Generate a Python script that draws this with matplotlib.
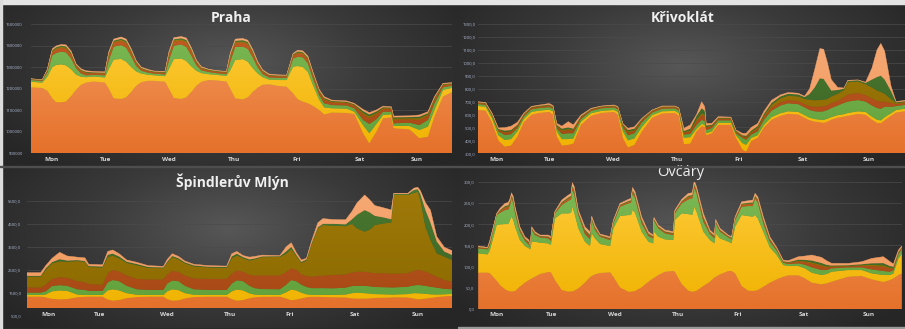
import numpy as np
import matplotlib
matplotlib.use("Agg")
import matplotlib.pyplot as plt
from matplotlib.colors import LinearSegmentedColormap
from matplotlib.patches import Rectangle
from matplotlib.ticker import FuncFormatter

W, H = 905, 329

# series colours, bottom layer first; each area fades from the top shade to the bottom shade
colors = ["#ef8a4a", "#fbc231", "#72ae4a", "#b5521d", "#977205", "#44702c", "#f4a067"]
shades = [("#f49a60", "#e5712a"), ("#fecb3c", "#f0b300"), ("#7dba55", "#60a03a"),
          ("#c25c24", "#a64814"), ("#a17b0b", "#8c6a00"), ("#4b7b31", "#3b6425"),
          ("#f7ab77", "#f0985c")]
days = ["Mon", "Tue", "Wed", "Thu", "Fri", "Sat", "Sun"]

# ---------------- Praha (thousands) ----------------
praha_hours = [0, 4.5, 6.5, 8.5, 10, 12, 14, 16, 18, 20, 22, 25, 29.5, 31, 33, 36, 38, 40, 42, 44,
               46.5, 49, 53.5, 55, 57, 60, 62, 64, 66, 68, 71, 74, 78, 79.5, 81.5, 84.5, 86.5, 88.5, 90.5, 92.5,
               95, 99, 102, 104.6, 106.5, 108.5, 110.5, 112.5, 115, 117, 120, 126, 129, 132.5, 135, 137.8, 140.5,
               143.8, 144.7, 151, 155, 158.4, 161, 164.4, 168]
praha_orange = [1206, 1203, 1190, 1155, 1137, 1137, 1140, 1165, 1195, 1218, 1228, 1233, 1228, 1200, 1155, 1152, 1160, 1185, 1213, 1230,
                1236, 1236, 1232, 1200, 1157, 1152, 1160, 1185, 1213, 1232, 1240, 1238, 1233, 1200, 1155, 1150, 1160, 1185, 1205, 1218,
                1220, 1212, 1209, 1178, 1150, 1140, 1132, 1120, 1101, 1080, 1089, 1087, 1083, 993, 946, 1000, 1062, 1067, 1016, 1011,
                970, 977, 1070, 1163, 1184]
praha_yellow = [26, 25, 65, 145, 173, 176, 168, 125, 70, 37, 25, 23, 24, 90, 180, 186, 165, 115, 67, 40,
                29, 26, 26, 90, 180, 188, 168, 118, 70, 40, 27, 26, 26, 85, 178, 187, 165, 110, 65, 35,
                22, 28, 31, 124, 155, 160, 145, 97, 48, 33, 20, 20, 10, 38, 47, 36, 16, 14, 11, 16,
                38, 47, 31, 31, 20]
praha_green = [8, 8, 20, 55, 55, 59, 60, 50, 30, 15, 9, 8, 10, 40, 60, 64, 65, 50, 25, 13,
               10, 8, 8, 40, 62, 65, 65, 50, 25, 13, 10, 8, 8, 40, 60, 58, 60, 50, 28, 14,
               10, 10, 10, 38, 43, 45, 40, 31, 21, 19, 15, 15, 16, 24, 43, 22, 15, 12, 12, 15,
               23, 31, 31, 12, 10]
praha_rust = [3, 3, 8, 15, 17, 17, 18, 18, 10, 11, 10, 8, 8, 20, 18, 20, 20, 18, 12, 8,
              7, 6, 7, 20, 19, 19, 21, 19, 12, 8, 7, 6, 7, 20, 19, 19, 20, 19, 13, 10,
              8, 7, 7, 12, 16, 15, 17, 16, 14, 16, 12, 11, 12, 25, 27, 22, 13, 12, 17, 16,
              24, 19, 15, 10, 7]
praha_olive = [1, 1, 2, 5, 5, 5, 5, 5, 3, 3, 3, 2, 2, 6, 5, 5, 6, 5, 4, 3,
               2, 2, 2, 6, 6, 5, 6, 5, 4, 3, 2, 2, 2, 6, 5, 5, 6, 5, 4, 3,
               2, 2, 2, 4, 5, 5, 5, 5, 4, 5, 4, 3, 4, 8, 9, 7, 4, 4, 6, 5,
               8, 6, 5, 3, 2]
praha_dkgreen = [1, 1, 2, 4, 5, 5, 5, 5, 3, 3, 3, 2, 2, 6, 5, 5, 6, 5, 4, 2,
                 2, 2, 2, 6, 5, 5, 6, 5, 4, 2, 2, 2, 2, 6, 5, 6, 6, 5, 4, 3,
                 2, 2, 2, 4, 4, 4, 5, 4, 4, 4, 3, 3, 3, 8, 8, 7, 4, 3, 5, 5,
                 7, 6, 5, 3, 2]
praha_light = [1, 1, 3, 6, 6, 6, 7, 7, 4, 5, 5, 4, 4, 8, 7, 8, 8, 7, 5, 4,
               4, 2, 3, 8, 8, 8, 9, 8, 5, 4, 2, 2, 2, 8, 8, 8, 8, 8, 6, 4,
               4, 3, 2, 4, 6, 6, 7, 6, 5, 6, 4, 4, 4, 8, 9, 7, 5, 4, 6, 6,
               8, 7, 6, 3, 3]
praha_days = [8.2, 29.6, 55.0, 80.9, 105.9, 131.2, 153.8]

# ---------------- Křivoklát ----------------
kriv_hours = [0, 3, 5.5, 8, 10.5, 13, 15.5, 18, 21, 24, 28, 29.5, 31, 33, 35.5, 37.5, 40.5, 44.5, 48.5, 53.5,
              55, 57, 59, 61.5, 64.5, 68.5, 72.5, 77.5, 79, 81, 83.5, 86, 88, 89.2, 89.8, 92, 94.5, 99.5, 101.5, 104,
              105.5, 107.5, 110, 112.5, 115.5, 119, 122, 126, 128.5, 130.5, 132.5, 134.5, 136, 137.5, 139, 141.5, 144,
              145.5, 149.5, 152.5, 155, 157, 158.5, 160, 162.5, 164.5, 168]
kriv_orange = [635, 630, 540, 400, 352, 360, 430, 540, 598, 612, 620, 600, 430, 360, 365, 375, 520, 590, 612, 620,
               600, 420, 345, 365, 470, 575, 608, 612, 590, 370, 375, 470, 510, 505, 440, 455, 520, 520, 420, 330,
               313, 395, 420, 500, 560, 590, 605, 600, 575, 555, 545, 540, 535, 545, 560, 575, 583, 590, 604, 598,
               560, 535, 532, 555, 590, 615, 625]
kriv_yellow = [31, 30, 30, 40, 51, 50, 40, 25, 22, 18, 17, 25, 40, 50, 45, 40, 25, 20, 16, 15,
               20, 50, 55, 50, 35, 20, 17, 16, 20, 50, 50, 20, 17, 15, 15, 15, 15, 15, 20, 50,
               52, 25, 20, 20, 20, 20, 20, 20, 20, 20, 20, 20, 23, 23, 20, 20, 20, 22, 21, 22,
               23, 25, 23, 25, 20, 20, 20]
kriv_green = [15, 15, 20, 30, 39, 38, 25, 20, 20, 20, 20, 20, 25, 40, 45, 40, 20, 18, 20, 20,
              20, 30, 40, 40, 35, 20, 20, 20, 20, 25, 25, 30, 31, 30, 25, 25, 20, 20, 15, 40,
              40, 25, 30, 40, 50, 60, 62, 60, 60, 60, 60, 62, 67, 67, 70, 75, 87, 88, 87, 80,
              87, 90, 90, 80, 50, 30, 30]
kriv_rust = [9, 8, 10, 10, 18, 18, 15, 11, 10, 10, 11, 10, 15, 20, 23, 20, 12, 9, 9, 8,
             10, 15, 20, 17, 15, 10, 10, 9, 10, 15, 20, 30, 38, 40, 20, 15, 10, 10, 10, 10,
             15, 15, 20, 20, 25, 25, 25, 25, 25, 30, 35, 40, 40, 37, 40, 35, 45, 55, 53, 50,
             55, 55, 55, 40, 30, 15, 15]
kriv_olive = [2, 3, 3, 4, 5, 6, 4, 4, 4, 4, 4, 4, 5, 10, 10, 7, 5, 3, 3, 3,
              4, 5, 10, 8, 5, 4, 4, 3, 4, 6, 8, 10, 14, 10, 5, 5, 5, 5, 5, 5,
              8, 8, 10, 12, 20, 30, 33, 35, 40, 50, 50, 50, 50, 48, 50, 55, 55, 95, 90, 85,
              85, 80, 75, 60, 30, 10, 7]
kriv_dkgreen = [3, 3, 3, 4, 10, 8, 6, 4, 4, 4, 4, 4, 5, 10, 12, 8, 5, 3, 3, 3,
                4, 5, 10, 10, 5, 3, 3, 3, 4, 6, 12, 30, 38, 30, 10, 5, 5, 5, 5, 5,
                7, 8, 10, 13, 15, 15, 15, 15, 15, 45, 100, 168, 160, 110, 45, 30, 10, 10, 10, 10,
                60, 105, 125, 110, 60, 5, 6]
kriv_light = [4, 4, 6, 8, 23, 30, 20, 6, 5, 5, 9, 7, 12, 20, 45, 30, 9, 5, 3, 5,
              4, 5, 13, 15, 6, 3, 4, 3, 4, 21, 30, 10, 51, 30, 17, 12, 8, 5, 5, 15,
              20, 24, 20, 20, 20, 12, 10, 10, 7, 40, 140, 230, 230, 170, 85, 20, 5, 5, 3, 5,
              90, 210, 250, 220, 40, 5, 7]
kriv_days = [7.2, 28.0, 53.0, 78.2, 102.7, 127.8, 153.6]

# ---------------- Špindlerův Mlýn ----------------
spin_hours = [0, 5.5, 7.5, 10, 13, 16, 20, 23, 24.5, 30, 32, 34, 36.5, 39.5, 43.5, 48, 54, 55.5, 57.5, 60,
              62.5, 66, 72, 79, 81, 83, 85.5, 88, 90, 93, 100, 102.5, 104.5, 106.5, 108.5, 110.5, 112.5, 115, 117, 121,
              126, 128.5, 130.5, 133.5, 135.5, 137.5, 141, 144, 145, 150.5, 153, 154.5, 155.5, 157.5, 159.5, 162, 165, 168]
spin_orange = [1328, 1328, 1300, 1230, 1210, 1220, 1300, 1320, 1328, 1328, 1200, 1154, 1180, 1260, 1310, 1328, 1328, 1220, 1154, 1170,
               1250, 1310, 1328, 1328, 1220, 1154, 1180, 1260, 1300, 1320, 1328, 1250, 1170, 1200, 1250, 1300, 1320, 1320, 1310, 1300,
               1290, 1250, 1240, 1240, 1250, 1270, 1280, 1290, 1300, 1290, 1240, 1212, 1215, 1240, 1270, 1310, 1340, 1358]
spin_yellow = [73, 73, 120, 330, 390, 360, 120, 80, 73, 73, 400, 494, 420, 220, 100, 73, 73, 340, 494, 440,
               230, 100, 73, 73, 340, 486, 420, 210, 120, 85, 73, 270, 470, 400, 250, 130, 90, 85, 95, 101,
               130, 230, 260, 240, 210, 170, 150, 130, 120, 150, 240, 262, 255, 210, 160, 110, 90, 87]
spin_green = [102, 102, 140, 230, 230, 220, 230, 220, 179, 175, 350, 407, 400, 320, 240, 219, 219, 340, 382, 390,
              320, 240, 219, 219, 340, 400, 400, 330, 280, 255, 249, 330, 410, 400, 350, 320, 290, 295, 295, 291,
              300, 310, 300, 320, 320, 310, 310, 310, 310, 320, 340, 363, 360, 350, 330, 300, 240, 203]
spin_rust = [232, 217, 290, 310, 340, 350, 350, 330, 300, 274, 400, 436, 420, 450, 450, 460, 460, 400, 420, 400,
             450, 470, 480, 480, 430, 430, 420, 480, 550, 590, 600, 550, 510, 500, 450, 480, 500, 530, 550, 581,
             580, 590, 610, 610, 600, 600, 610, 600, 600, 590, 630, 654, 650, 620, 570, 480, 380, 335]
spin_olive = [465, 480, 650, 680, 700, 700, 880, 900, 740, 750, 700, 625, 580, 550, 600, 500, 490, 500, 600, 550,
              530, 530, 500, 480, 670, 650, 580, 620, 700, 800, 810, 800, 840, 600, 500, 670, 1400, 2070, 2200, 2147,
              2100, 2120, 1890, 1750, 1870, 2100, 2170, 2230, 3430, 3410, 3400, 3409, 3064, 1961, 1469, 1018, 1023, 944]
spin_dkgreen = [30, 30, 60, 50, 90, 50, 40, 30, 40, 40, 100, 87, 80, 50, 50, 40, 30, 50, 50, 50,
                40, 40, 30, 40, 80, 80, 50, 50, 40, 30, 30, 100, 100, 50, 40, 50, 50, 50, 50, 80,
                80, 200, 600, 940, 750, 400, 260, 140, 40, 40, 130, 110, 256, 727, 751, 508, 217, 218]
spin_light = [145, 145, 120, 170, 300, 200, 130, 140, 80, 80, 150, 160, 120, 77, 76, 60, 50, 100, 100, 80,
              60, 50, 50, 40, 120, 100, 70, 100, 90, 60, 30, 200, 180, 100, 87, 50, 100, 200, 230, 190,
              200, 350, 520, 660, 550, 450, 420, 410, 34, 34, 80, 86, 150, 319, 550, 219, 190, 189]
spin_days = [8.8, 28.9, 55.3, 80.3, 103.9, 129.6, 154.6]

# ---------------- Ovčáry ----------------
ovc_hours = [0, 3.7, 4.6, 7.3, 8.6, 10.6, 11.9, 12.6, 13.2, 13.9, 14.6, 16.5, 18.5, 20.1, 20.6, 21.2, 22.5, 24.5, 27.8, 28.8,
             30.4, 33.1, 35.7, 36.8, 37.3, 38.1, 39.7, 42.3, 44.3, 45.0, 46.3, 48.3, 52.3, 53.6, 56.2, 59.5, 60.6, 61.2, 62.2, 64.8,
             67.5, 69.4, 69.7, 71.4, 74.1, 77.4, 78.0, 80.7, 83.3, 84.9, 85.7, 86.6, 89.3, 91.9, 93.7, 94.2, 95.9, 99.2, 100.5, 101.9,
             104.5, 107.1, 108.9, 109.8, 110.9, 113.1, 115.7, 118.4, 121.0, 123.0, 127.0, 129.6, 132.3, 136.2, 138.2, 140.2, 146.8, 152.1, 156.1, 160.7,
             163.4, 164.7, 166.7, 168]
ovc_orange = [85.6, 85.6, 84.0, 66.7, 56.5, 46.3, 42.4, 41.6, 41.6, 41.6, 42.4, 52.6, 62.0, 68.3, 69.9, 72.2, 76.1, 82.4, 87.1, 86.4,
              68.3, 44.7, 40.8, 41.6, 41.6, 43.2, 48.7, 62.0, 74.6, 77.7, 81.6, 84.8, 86.4, 76.1, 51.0, 40.8, 40.8, 41.6, 42.4, 51.0,
              64.4, 72.2, 73.0, 80.1, 87.9, 89.5, 87.9, 58.9, 43.2, 40.8, 41.6, 43.2, 54.2, 64.4, 74.6, 76.1, 81.6, 89.5, 89.5, 84.0,
              54.2, 43.2, 42.4, 43.2, 44.7, 52.6, 62.0, 69.9, 76.1, 79.3, 79.3, 72.2, 62.0, 58.1, 60.4, 64.4, 76.1, 77.7, 69.9, 63.6,
              68.3, 72.2, 80.1, 84.0]
ovc_yellow = [45.5, 43.2, 55.0, 131.1, 142.9, 153.9, 157.8, 168.0, 175.8, 168.0, 151.5, 109.9, 86.4, 74.6, 70.7, 86.4, 82.4, 73.8, 67.5, 64.4,
              145.2, 180.6, 184.5, 185.3, 199.4, 183.7, 141.3, 96.6, 73.8, 100.5, 84.8, 68.3, 62.0, 113.8, 168.0, 180.6, 180.6, 191.5, 184.5, 131.1,
              94.2, 82.4, 109.1, 90.3, 76.1, 73.0, 121.7, 166.4, 180.6, 180.6, 199.4, 186.0, 128.0, 98.1, 80.1, 102.1, 84.8, 69.1, 65.2, 109.9,
              167.2, 175.8, 175.1, 178.2, 168.8, 129.5, 83.2, 57.3, 27.5, 22.0, 22.0, 23.6, 23.6, 22.0, 22.0, 23.6, 15.7, 14.1, 14.1, 16.5,
              11.8, 11.8, 39.3, 44.7]
ovc_green = [11.8, 11.8, 11.8, 23.6, 27.5, 33.0, 34.5, 35.3, 43.2, 39.3, 31.4, 19.6, 12.6, 7.9, 4.7, 27.5, 15.7, 12.6, 11.8, 10.2,
             11.8, 19.6, 29.8, 31.4, 39.3, 41.6, 31.4, 18.1, 15.7, 31.4, 19.6, 17.3, 14.1, 11.8, 22.0, 27.5, 29.0, 39.3, 33.8, 19.6,
             13.3, 11.8, 25.9, 19.6, 14.1, 11.8, 15.7, 23.6, 34.5, 39.3, 43.2, 43.2, 23.6, 14.1, 11.8, 23.6, 15.7, 10.2, 9.4, 15.7,
             19.6, 23.6, 25.1, 39.3, 36.9, 19.6, 13.3, 10.2, 5.5, 4.7, 6.3, 8.6, 12.6, 11.8, 9.4, 7.9, 6.3, 6.3, 9.4, 9.4,
             7.9, 7.9, 9.4, 13.3]
ovc_rust = [1.9, 1.6, 4.1, 1.4, 3.6, 5.5, 5.8, 5.5, 4.7, 5.5, 5.5, 4.1, 3.3, 4.1, 1.1, 2.8, 2.8, 1.9, 2.8, 3.3,
            1.6, 4.1, 4.7, 4.9, 6.1, 6.9, 4.1, 6.1, 6.3, 3.3, 4.1, 2.2, 2.8, 2.8, 2.8, 3.3, 3.6, 4.9, 5.5, 5.5,
            3.6, 2.8, 2.8, 2.8, 2.8, 2.8, 2.8, 3.3, 4.9, 4.7, 6.3, 5.5, 6.9, 3.3, 3.6, 3.3, 2.8, 1.9, 2.2, 2.8,
            4.1, 4.4, 4.9, 4.1, 4.9, 5.5, 4.1, 2.8, 1.9, 2.4, 4.7, 6.1, 8.7, 8.9, 6.6, 3.5, 2.8, 4.0, 7.8, 10.1,
            7.1, 4.2, 3.6, 2.2]
ovc_olive = [0.6, 0.5, 1.2, 0.4, 1.0, 1.6, 1.7, 1.6, 1.3, 1.6, 1.6, 1.2, 0.9, 1.2, 0.3, 0.8, 0.8, 0.6, 0.8, 0.9,
             0.5, 1.2, 1.3, 1.4, 1.7, 2.0, 1.2, 1.7, 1.8, 0.9, 1.2, 0.6, 0.8, 0.8, 0.8, 0.9, 1.0, 1.4, 1.6, 1.6,
             1.0, 0.8, 0.8, 0.8, 0.8, 0.8, 0.8, 0.9, 1.4, 1.3, 1.8, 1.6, 2.0, 0.9, 1.0, 0.9, 0.8, 0.6, 0.6, 0.8,
             1.2, 1.3, 1.4, 1.2, 1.4, 1.6, 1.2, 0.8, 0.6, 0.8, 1.6, 2.0, 2.9, 3.0, 2.2, 1.2, 0.9, 1.3, 2.6, 3.4,
             2.4, 1.4, 1.0, 0.6]
ovc_dkgreen = [0.8, 0.7, 1.8, 0.6, 1.5, 2.4, 2.5, 2.4, 2.0, 2.4, 2.4, 1.8, 1.4, 1.8, 0.5, 1.2, 1.2, 0.8, 1.2, 1.4,
               0.7, 1.8, 2.0, 2.1, 2.6, 2.9, 1.8, 2.6, 2.7, 1.4, 1.8, 0.9, 1.2, 1.2, 1.2, 1.4, 1.5, 2.1, 2.4, 2.4,
               1.5, 1.2, 1.2, 1.2, 1.2, 1.2, 1.2, 1.4, 2.1, 2.0, 2.7, 2.4, 2.9, 1.4, 1.5, 1.4, 1.2, 0.8, 0.9, 1.2,
               1.8, 1.9, 2.1, 1.8, 2.1, 2.4, 1.8, 1.2, 0.9, 1.2, 2.4, 3.1, 4.4, 4.5, 3.3, 1.8, 1.4, 2.0, 3.9, 5.1,
               3.5, 2.1, 1.5, 0.9]
ovc_light = [2.2, 1.9, 4.7, 1.5, 4.1, 6.2, 6.5, 6.2, 5.3, 6.2, 6.2, 4.7, 3.8, 4.7, 1.2, 3.1, 3.1, 2.2, 3.1, 3.8,
             1.9, 4.7, 5.3, 5.7, 6.9, 7.8, 4.7, 6.9, 7.3, 3.8, 4.7, 2.6, 3.1, 3.1, 3.1, 3.8, 4.1, 5.7, 6.2, 6.2,
             4.1, 3.1, 3.1, 3.1, 3.1, 3.1, 3.1, 3.8, 5.7, 5.3, 7.3, 6.2, 7.8, 3.8, 4.1, 3.8, 3.1, 2.2, 2.6, 3.1,
             4.7, 5.0, 5.7, 4.7, 5.7, 6.2, 4.7, 3.1, 2.9, 3.5, 7.0, 9.2, 13.0, 13.4, 9.9, 5.3, 4.3, 6.0, 11.6, 15.2,
             10.6, 6.4, 4.1, 2.6]
ovc_days = [7.3, 29.1, 54.0, 79.1, 102.9, 129.0, 154.8]

plt.rcParams["font.family"] = ["Open Sans", "DejaVu Sans"]
fig = plt.figure(figsize=(W / 100, H / 100), dpi=100, facecolor="#2b2b2b")
bg_cmap = LinearSegmentedColormap.from_list("bg", ["#575757", "#3a3a3a", "#262626"])


def fig_rect(left, top, right, bottom):
    return [left / W, 1 - bottom / H, (right - left) / W, (bottom - top) / H]


def background(left, top, right, bottom):
    ax = fig.add_axes(fig_rect(left, top, right, bottom), zorder=0)
    ax.set_axis_off()
    yy, xx = np.mgrid[0:1:160j, 0:1:450j]
    r = np.sqrt(((xx - 0.5) / 0.62) ** 2 + ((yy - 0.38) / 0.85) ** 2)
    ax.imshow(np.clip(r, 0, 1), cmap=bg_cmap, vmin=0, vmax=1, aspect="auto",
              extent=[0, 1, 1, 0], interpolation="bilinear")


def comma(v, _):
    return f"{v:.1f}".replace(".", ",")


def plain(v, _):
    return f"{v:.0f}"


def panel(rect, hours, layers, ylim, yticks, fmt, day_pos, ypad):
    ax = fig.add_axes(fig_rect(*rect), zorder=2)
    ax.patch.set_alpha(0)
    ax.set_xlim(hours[0], hours[-1])
    ax.set_ylim(*ylim)
    polys = ax.stackplot(hours, *layers, colors=colors)
    ramp = np.linspace(0, 1, 256).reshape(-1, 1)
    for p, c, (top, bot) in zip(polys, colors, shades):
        p.set_edgecolor(c)
        p.set_linewidth(0.3)
        p.set_facecolor("none")
        cm = LinearSegmentedColormap.from_list("fade", [bot, top])
        im = ax.imshow(ramp, cmap=cm, aspect="auto", origin="lower", zorder=1,
                       extent=[hours[0], hours[-1], ylim[0], ylim[1]])
        im.set_clip_path(p.get_paths()[0], transform=ax.transData)
    ax.set_xlim(hours[0], hours[-1])
    ax.set_ylim(*ylim)
    ax.set_yticks(yticks)
    ax.yaxis.set_major_formatter(FuncFormatter(fmt))
    ax.tick_params(axis="y", length=0, labelsize=3, labelcolor="#aebbd4", pad=ypad)
    ax.set_xticks(day_pos)
    ax.set_xticklabels(days, fontweight="bold")
    ax.tick_params(axis="x", length=0, labelsize=4.6, labelcolor="#d6d6d6", pad=2.5)
    ax.grid(axis="y", color="#4b4b4b", linewidth=0.5)
    ax.set_axisbelow(True)
    for s in ax.spines.values():
        s.set_visible(False)
    return ax


# panel backgrounds
background(2, 4, 457, 166)
background(457, 4, 905, 166)
background(2, 167, 457, 328)
background(457, 167, 905, 328)

# Praha
panel((31, 24, 452, 153.3), praha_hours,
      [np.array(s) * 1000 for s in (praha_orange, praha_yellow, praha_green, praha_rust,
                                     praha_olive, praha_dkgreen, praha_light)],
      (900000, 1500000), np.arange(900000, 1500001, 100000), plain, praha_days, 6)

# Křivoklát
panel((478, 24, 905, 153.3), kriv_hours,
      [kriv_orange, kriv_yellow, kriv_green, kriv_rust, kriv_olive, kriv_dkgreen, kriv_light],
      (300, 1300), np.arange(300, 1301, 100), comma, kriv_days, 2)

# Špindlerův Mlýn
ax_s = panel((26.7, 178, 452, 308.3), spin_hours,
             [spin_orange, spin_yellow, spin_green, spin_rust, spin_olive, spin_dkgreen, spin_light],
             (820, 6500), np.arange(1500, 5501, 1000), comma, spin_days, 4)
ax_s.text(-0.012, 500, "500,0", transform=ax_s.get_yaxis_transform(), ha="right", va="center",
          fontsize=3, color="#aebbd4", clip_on=False)

# Ovčáry
panel((478.3, 181.7, 901.7, 309), ovc_hours,
      [ovc_orange, ovc_yellow, ovc_green, ovc_rust, ovc_olive, ovc_dkgreen, ovc_light],
      (0, 300), np.arange(0, 301, 50), comma, ovc_days, 3)

# titles
fig.text(231 / W, 1 - 17.5 / H, "Praha", ha="center", va="center", fontsize=10, fontweight="bold", color="#f0f0f0")
fig.text(683 / W, 1 - 18.5 / H, "Křivoklát", ha="center", va="center", fontsize=10, fontweight="bold", color="#f0f0f0")
fig.text(232 / W, 1 - 181.7 / H, "Špindlerův Mlýn", ha="center", va="center", fontsize=10, fontweight="bold", color="#f0f0f0")
fig.text(681 / W, 1 - 172.3 / H, "Ovčáry", ha="center", va="center", fontsize=10.5, color="#f0f0f0")

# frame strips around the panels
fig.add_artist(Rectangle((0, 1 - 3.5 / H), 1, 3.5 / H, transform=fig.transFigure, color="#e4e4e4", zorder=5))
fig.add_artist(Rectangle((0, 0), 2 / W, 1, transform=fig.transFigure, color="#dcdcdc", zorder=5))
fig.add_artist(Rectangle((0, 1 - 167 / H), 1, 1 / H, transform=fig.transFigure, color="#4e4e4e", zorder=5))
fig.add_artist(Rectangle((458 / W, 1 - 328 / H), 1, 1 / H, transform=fig.transFigure, color="#9a9a9a", zorder=5))

fig.savefig("out.png", dpi=100, facecolor=fig.get_facecolor())
